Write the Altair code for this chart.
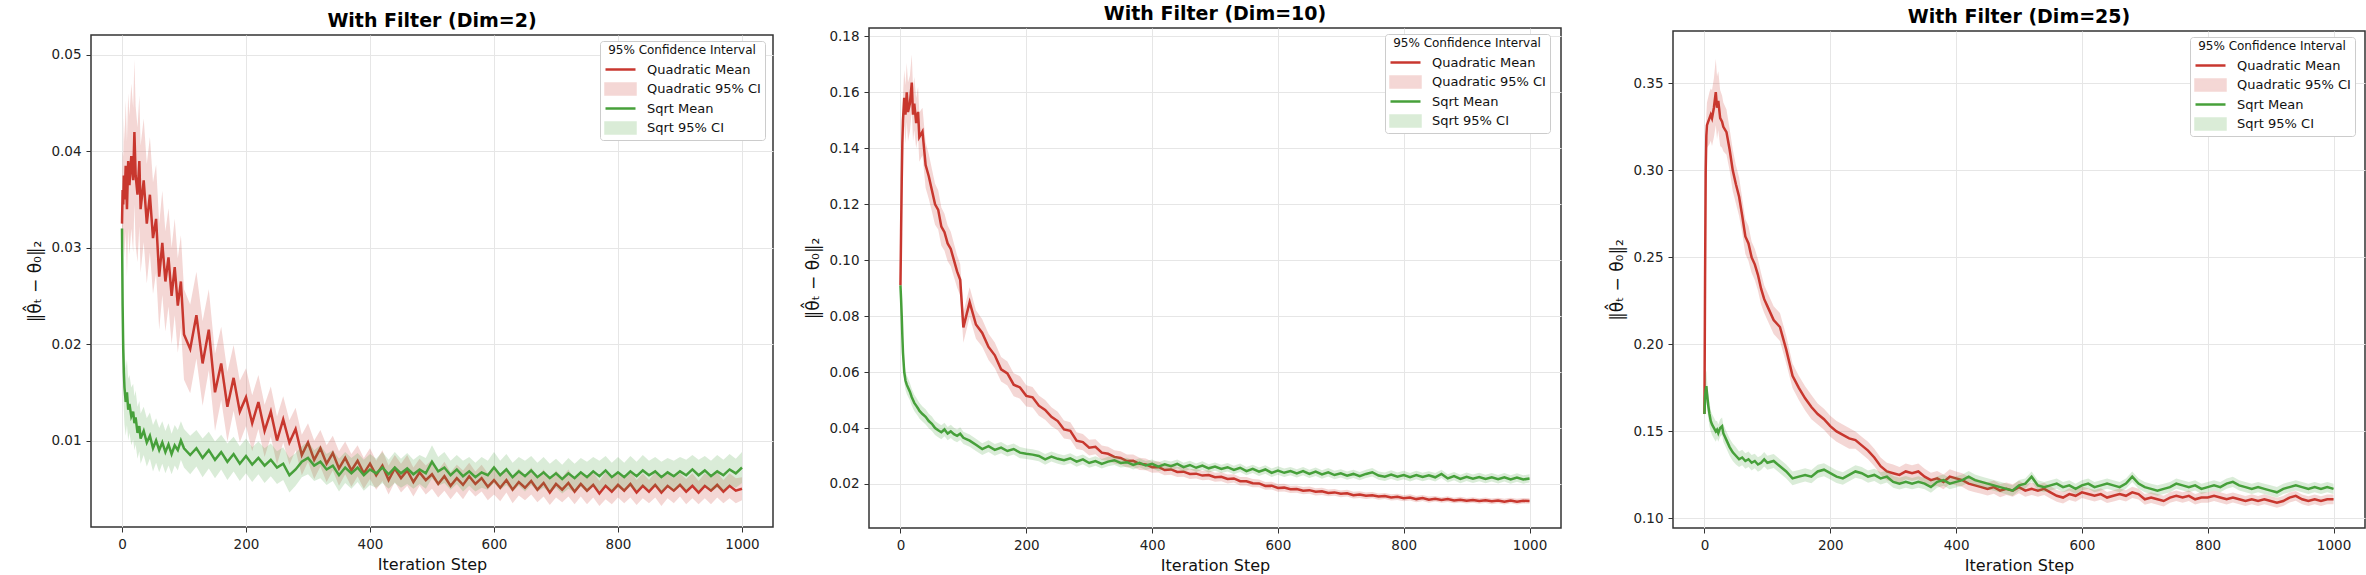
import altair as alt
import pandas as pd

# ---------------- data ----------------
ITER = [0, 1, 2, 3, 4, 6, 8, 10, 12, 15, 18, 20, 22, 25, 28, 30, 35, 40, 45, 50,
        55, 60, 65, 70, 75, 80, 85, 90, 95, 100,
        110, 120, 130, 140, 150, 160, 170, 180, 190, 200,
        210, 220, 230, 240, 250, 260, 270, 280, 290, 300,
        310, 320, 330, 340, 350, 360, 370, 380, 390, 400,
        410, 420, 430, 440, 450, 460, 470, 480, 490, 500,
        510, 520, 530, 540, 550, 560, 570, 580, 590, 600,
        610, 620, 630, 640, 650, 660, 670, 680, 690, 700,
        710, 720, 730, 740, 750, 760, 770, 780, 790, 800,
        810, 820, 830, 840, 850, 860, 870, 880, 890, 900,
        910, 920, 930, 940, 950, 960, 970, 980, 990, 1000]

SERIES = ["Quadratic Mean", "Quadratic 95% CI", "Sqrt Mean", "Sqrt 95% CI"]
TITLES = ["With Filter (Dim=2)", "With Filter (Dim=10)", "With Filter (Dim=25)"]
X_TICKS = [0, 200, 400, 600, 800, 1000]

# ---- Dim = 2 ----
Q1_MEAN = [0.0325, 0.0360, 0.0345, 0.0375, 0.0350, 0.0385, 0.0340, 0.0390, 0.0365, 0.0395,
           0.0370, 0.0420, 0.0375, 0.0355, 0.0390, 0.0340, 0.0370, 0.0325, 0.0355, 0.0310,
           0.0330, 0.0270, 0.0305, 0.0265, 0.0290, 0.0250, 0.0280, 0.0240, 0.0265, 0.0210,
           0.0195, 0.0230, 0.0180, 0.0215, 0.0150, 0.0180, 0.0135, 0.0165, 0.0130, 0.0145,
           0.0118, 0.0140, 0.0110, 0.0130, 0.0100, 0.0122, 0.0098, 0.0112, 0.0085, 0.0098,
           0.0080, 0.0092, 0.0076, 0.0087, 0.0071, 0.0082, 0.0069, 0.0079, 0.0066, 0.0076,
           0.0064, 0.0074, 0.0059, 0.0071, 0.0061, 0.0069, 0.0057, 0.0067, 0.0059, 0.0065,
           0.0055, 0.0063, 0.0053, 0.0061, 0.0054, 0.0063, 0.0055, 0.0061, 0.0052, 0.0059,
           0.0051, 0.0059, 0.0049, 0.0057, 0.0051, 0.0058, 0.0049, 0.0056, 0.0046, 0.0055,
           0.0049, 0.0056, 0.0047, 0.0055, 0.0048, 0.0054, 0.0045, 0.0053, 0.0047, 0.0054,
           0.0048, 0.0055, 0.0046, 0.0053, 0.0047, 0.0054, 0.0046, 0.0053, 0.0048, 0.0054,
           0.0047, 0.0053, 0.0046, 0.0053, 0.0048, 0.0054, 0.0047, 0.0053, 0.0048, 0.0050]
Q1_HW = [0.0030, 0.0040, 0.0050, 0.0060, 0.0060, 0.0068, 0.0070, 0.0070, 0.0072, 0.0075,
         0.0075, 0.0075, 0.0072, 0.0070, 0.0068, 0.0066, 0.0064, 0.0062, 0.0060, 0.0058,
         0.0056, 0.0055, 0.0054, 0.0052, 0.0051, 0.0050, 0.0050, 0.0049, 0.0048, 0.0047,
         0.0046, 0.0045, 0.0044, 0.0042, 0.0040, 0.0038, 0.0036, 0.0034, 0.0032, 0.0030,
         0.0029, 0.0028, 0.0027, 0.0026, 0.0025, 0.0024, 0.0023, 0.0022, 0.0021, 0.0020,
         0.0020, 0.0019, 0.0019, 0.0018, 0.0018, 0.0017, 0.0017, 0.0016, 0.0016, 0.0016,
         0.0015, 0.0016, 0.0015, 0.0014, 0.0015, 0.0016, 0.0015, 0.0014, 0.0015, 0.0015,
         0.0014, 0.0015, 0.0014, 0.0014, 0.0015, 0.0014, 0.0013, 0.0014, 0.0014, 0.0015,
         0.0014, 0.0013, 0.0014, 0.0014, 0.0013, 0.0014, 0.0013, 0.0014, 0.0013, 0.0014,
         0.0013, 0.0014, 0.0013, 0.0013, 0.0014, 0.0013, 0.0013, 0.0014, 0.0013, 0.0013,
         0.0013, 0.0014, 0.0013, 0.0013, 0.0012, 0.0013, 0.0014, 0.0013, 0.0013, 0.0012,
         0.0013, 0.0013, 0.0012, 0.0013, 0.0014, 0.0013, 0.0012, 0.0013, 0.0013, 0.0012]
S1_MEAN = [0.0320, 0.0240, 0.0195, 0.0170, 0.0155, 0.0140, 0.0150, 0.0132, 0.0138, 0.0125,
           0.0130, 0.0118, 0.0124, 0.0108, 0.0115, 0.0102, 0.0110, 0.0098, 0.0105, 0.0092,
           0.0100, 0.0090, 0.0098, 0.0088, 0.0096, 0.0086, 0.0095, 0.0090, 0.0100, 0.0092,
           0.0085, 0.0092, 0.0082, 0.0090, 0.0080, 0.0088, 0.0078, 0.0086, 0.0076, 0.0084,
           0.0075, 0.0082, 0.0074, 0.0080, 0.0072, 0.0076, 0.0064, 0.0070, 0.0078, 0.0082,
           0.0074, 0.0078, 0.0070, 0.0074, 0.0064, 0.0072, 0.0066, 0.0072, 0.0064, 0.0070,
           0.0066, 0.0072, 0.0065, 0.0072, 0.0066, 0.0071, 0.0065, 0.0070, 0.0066, 0.0078,
           0.0068, 0.0072, 0.0064, 0.0070, 0.0063, 0.0068, 0.0062, 0.0067, 0.0064, 0.0072,
           0.0064, 0.0070, 0.0062, 0.0068, 0.0063, 0.0069, 0.0062, 0.0067, 0.0061, 0.0066,
           0.0060, 0.0066, 0.0061, 0.0067, 0.0062, 0.0068, 0.0063, 0.0069, 0.0062, 0.0067,
           0.0062, 0.0068, 0.0063, 0.0069, 0.0064, 0.0068, 0.0062, 0.0067, 0.0063, 0.0068,
           0.0064, 0.0070, 0.0064, 0.0069, 0.0063, 0.0068, 0.0064, 0.0070, 0.0066, 0.0072]
S1_HW = [0.0010, 0.0030, 0.0040, 0.0040, 0.0038, 0.0035, 0.0034, 0.0032, 0.0030, 0.0030,
         0.0029, 0.0028, 0.0028, 0.0027, 0.0026, 0.0026, 0.0025, 0.0025, 0.0024, 0.0024,
         0.0023, 0.0023, 0.0022, 0.0022, 0.0022, 0.0021, 0.0021, 0.0021, 0.0020, 0.0020,
         0.0020, 0.0019, 0.0020, 0.0019, 0.0019, 0.0018, 0.0019, 0.0018, 0.0018, 0.0018,
         0.0018, 0.0017, 0.0018, 0.0017, 0.0017, 0.0017, 0.0018, 0.0017, 0.0016, 0.0017,
         0.0016, 0.0017, 0.0016, 0.0016, 0.0017, 0.0016, 0.0016, 0.0015, 0.0016, 0.0016,
         0.0015, 0.0016, 0.0015, 0.0016, 0.0015, 0.0016, 0.0015, 0.0015, 0.0016, 0.0017,
         0.0015, 0.0016, 0.0015, 0.0015, 0.0016, 0.0015, 0.0015, 0.0016, 0.0015, 0.0016,
         0.0015, 0.0016, 0.0015, 0.0015, 0.0016, 0.0015, 0.0015, 0.0016, 0.0015, 0.0015,
         0.0015, 0.0016, 0.0015, 0.0015, 0.0016, 0.0015, 0.0016, 0.0015, 0.0015, 0.0016,
         0.0015, 0.0016, 0.0015, 0.0016, 0.0015, 0.0015, 0.0016, 0.0015, 0.0016, 0.0015,
         0.0016, 0.0015, 0.0016, 0.0015, 0.0016, 0.0017, 0.0016, 0.0016, 0.0015, 0.0016]

# ---- Dim = 10 ----
Q2_MEAN = [0.0910, 0.1100, 0.1280, 0.1420, 0.1500, 0.1580, 0.1520, 0.1600, 0.1530, 0.1560,
           0.1635, 0.1520, 0.1560, 0.1490, 0.1530, 0.1440, 0.1460, 0.1340, 0.1300, 0.1250,
           0.1200, 0.1180, 0.1120, 0.1100, 0.1060, 0.1040, 0.1000, 0.0960, 0.0930, 0.0760,
           0.0850, 0.0770, 0.0740, 0.0690, 0.0660, 0.0610, 0.0595, 0.0555, 0.0545, 0.0515,
           0.0510, 0.0480, 0.0465, 0.0440, 0.0425, 0.0395, 0.0390, 0.0355, 0.0350, 0.0330,
           0.0333, 0.0312, 0.0308, 0.0297, 0.0293, 0.0282, 0.0283, 0.0272, 0.0270, 0.0260,
           0.0261, 0.0250, 0.0252, 0.0243, 0.0244, 0.0236, 0.0237, 0.0230, 0.0232, 0.0224,
           0.0226, 0.0218, 0.0220, 0.0210, 0.0210, 0.0203, 0.0202, 0.0193, 0.0194, 0.0186,
           0.0187, 0.0181, 0.0182, 0.0176, 0.0178, 0.0172, 0.0174, 0.0168, 0.0170, 0.0165,
           0.0167, 0.0160, 0.0162, 0.0158, 0.0160, 0.0155, 0.0157, 0.0152, 0.0154, 0.0149,
           0.0152, 0.0146, 0.0150, 0.0144, 0.0147, 0.0143, 0.0146, 0.0141, 0.0144, 0.0140,
           0.0143, 0.0139, 0.0142, 0.0138, 0.0141, 0.0137, 0.0141, 0.0137, 0.0140, 0.0139]
Q2_HW = [0.0020, 0.0040, 0.0060, 0.0080, 0.0090, 0.0100, 0.0105, 0.0105, 0.0105, 0.0100,
         0.0100, 0.0095, 0.0095, 0.0090, 0.0090, 0.0088, 0.0085, 0.0082, 0.0080, 0.0076,
         0.0073, 0.0070, 0.0068, 0.0066, 0.0064, 0.0062, 0.0060, 0.0058, 0.0056, 0.0055,
         0.0053, 0.0051, 0.0049, 0.0047, 0.0046, 0.0044, 0.0043, 0.0041, 0.0040, 0.0038,
         0.0037, 0.0036, 0.0035, 0.0034, 0.0033, 0.0032, 0.0031, 0.0030, 0.0029, 0.0028,
         0.0027, 0.0026, 0.0025, 0.0024, 0.0024, 0.0023, 0.0022, 0.0022, 0.0021, 0.0020,
         0.0020, 0.0019, 0.0019, 0.0018, 0.0018, 0.0018, 0.0017, 0.0017, 0.0017, 0.0016,
         0.0016, 0.0016, 0.0015, 0.0015, 0.0015, 0.0015, 0.0014, 0.0014, 0.0014, 0.0014,
         0.0014, 0.0013, 0.0013, 0.0013, 0.0013, 0.0013, 0.0013, 0.0012, 0.0012, 0.0012,
         0.0012, 0.0012, 0.0012, 0.0012, 0.0011, 0.0011, 0.0011, 0.0011, 0.0011, 0.0011,
         0.0011, 0.0011, 0.0011, 0.0011, 0.0010, 0.0010, 0.0010, 0.0010, 0.0010, 0.0010,
         0.0010, 0.0010, 0.0010, 0.0010, 0.0010, 0.0010, 0.0010, 0.0010, 0.0010, 0.0010]
S2_MEAN = [0.0910, 0.0860, 0.0800, 0.0730, 0.0670, 0.0600, 0.0570, 0.0555, 0.0545, 0.0530,
           0.0510, 0.0500, 0.0490, 0.0480, 0.0470, 0.0462, 0.0450, 0.0440, 0.0425, 0.0415,
           0.0400, 0.0392, 0.0385, 0.0395, 0.0380, 0.0388, 0.0378, 0.0372, 0.0380, 0.0365,
           0.0355, 0.0340, 0.0325, 0.0335, 0.0322, 0.0330, 0.0318, 0.0325, 0.0312, 0.0308,
           0.0305, 0.0300, 0.0288, 0.0298, 0.0290, 0.0285, 0.0292, 0.0280, 0.0288, 0.0275,
           0.0282, 0.0272, 0.0280, 0.0285, 0.0275, 0.0278, 0.0268, 0.0276, 0.0266, 0.0272,
           0.0262, 0.0270, 0.0264, 0.0272, 0.0260, 0.0268, 0.0258, 0.0266, 0.0256, 0.0262,
           0.0254, 0.0260, 0.0250, 0.0258, 0.0246, 0.0254, 0.0244, 0.0252, 0.0240, 0.0248,
           0.0240, 0.0246, 0.0238, 0.0246, 0.0236, 0.0244, 0.0234, 0.0242, 0.0232, 0.0238,
           0.0230, 0.0236, 0.0228, 0.0236, 0.0242, 0.0230, 0.0226, 0.0234, 0.0226, 0.0232,
           0.0224, 0.0232, 0.0225, 0.0231, 0.0224, 0.0236, 0.0220, 0.0228, 0.0218, 0.0226,
           0.0219, 0.0225, 0.0218, 0.0224, 0.0217, 0.0224, 0.0216, 0.0223, 0.0216, 0.0220]
S2_HW = [0.0010, 0.0020, 0.0030, 0.0035, 0.0035, 0.0035, 0.0034, 0.0033, 0.0032, 0.0031,
         0.0030, 0.0030, 0.0029, 0.0029, 0.0028, 0.0028, 0.0027, 0.0027, 0.0026, 0.0026,
         0.0025, 0.0025, 0.0025, 0.0024, 0.0024, 0.0024, 0.0023, 0.0023, 0.0023, 0.0022,
         0.0022, 0.0022, 0.0021, 0.0021, 0.0021, 0.0020, 0.0020, 0.0020, 0.0020, 0.0019,
         0.0019, 0.0019, 0.0019, 0.0018, 0.0018, 0.0018, 0.0018, 0.0018, 0.0017, 0.0017,
         0.0017, 0.0017, 0.0017, 0.0017, 0.0016, 0.0016, 0.0016, 0.0016, 0.0016, 0.0016,
         0.0016, 0.0016, 0.0016, 0.0016, 0.0016, 0.0015, 0.0015, 0.0015, 0.0015, 0.0015,
         0.0015, 0.0015, 0.0015, 0.0015, 0.0015, 0.0015, 0.0015, 0.0015, 0.0015, 0.0015,
         0.0015, 0.0015, 0.0015, 0.0015, 0.0015, 0.0015, 0.0015, 0.0015, 0.0015, 0.0015,
         0.0015, 0.0015, 0.0015, 0.0015, 0.0015, 0.0015, 0.0015, 0.0015, 0.0015, 0.0015,
         0.0015, 0.0015, 0.0015, 0.0015, 0.0015, 0.0015, 0.0015, 0.0015, 0.0015, 0.0015,
         0.0015, 0.0015, 0.0015, 0.0015, 0.0015, 0.0015, 0.0015, 0.0015, 0.0015, 0.0015]

# ---- Dim = 25 ----
Q3_MEAN = [0.160, 0.240, 0.300, 0.320, 0.326, 0.328, 0.330, 0.332, 0.330, 0.336,
           0.345, 0.336, 0.340, 0.330, 0.328, 0.325, 0.322, 0.312, 0.300, 0.292,
           0.285, 0.274, 0.262, 0.258, 0.250, 0.246, 0.240, 0.232, 0.226, 0.222,
           0.214, 0.210, 0.197, 0.182, 0.175, 0.169, 0.164, 0.160, 0.157, 0.153,
           0.150, 0.148, 0.146, 0.145, 0.142, 0.139, 0.135, 0.130, 0.127, 0.126,
           0.125, 0.127, 0.126, 0.127, 0.124, 0.122, 0.123, 0.121, 0.124, 0.123,
           0.122, 0.120, 0.119, 0.118, 0.117, 0.118, 0.116, 0.117, 0.116, 0.118,
           0.116, 0.117, 0.116, 0.117, 0.115, 0.113, 0.112, 0.114, 0.113, 0.115,
           0.114, 0.113, 0.114, 0.112, 0.113, 0.114, 0.113, 0.115, 0.114, 0.111,
           0.112, 0.111, 0.110, 0.112, 0.113, 0.112, 0.113, 0.111, 0.112, 0.112,
           0.113, 0.112, 0.111, 0.112, 0.111, 0.110, 0.111, 0.110, 0.111, 0.110,
           0.109, 0.110, 0.112, 0.113, 0.111, 0.110, 0.111, 0.110, 0.111, 0.111]
Q3_HW = [0.002, 0.006, 0.010, 0.012, 0.013, 0.014, 0.015, 0.015, 0.016, 0.017,
         0.019, 0.018, 0.017, 0.016, 0.015, 0.014, 0.013, 0.012, 0.012, 0.011,
         0.011, 0.010, 0.010, 0.010, 0.009, 0.009, 0.009, 0.009, 0.008, 0.008,
         0.008, 0.008, 0.008, 0.007, 0.007, 0.007, 0.007, 0.006, 0.006, 0.006,
         0.006, 0.006, 0.006, 0.005, 0.005, 0.005, 0.005, 0.005, 0.005, 0.005,
         0.0045, 0.0045, 0.0045, 0.0045, 0.0045, 0.0042, 0.0042, 0.0042, 0.0042, 0.0040,
         0.0040, 0.0040, 0.0040, 0.0038, 0.0038, 0.0038, 0.0038, 0.0036, 0.0036, 0.0036,
         0.0036, 0.0035, 0.0035, 0.0035, 0.0035, 0.0034, 0.0034, 0.0034, 0.0034, 0.0033,
         0.0033, 0.0033, 0.0033, 0.0032, 0.0032, 0.0032, 0.0032, 0.0032, 0.0031, 0.0031,
         0.0031, 0.0031, 0.0031, 0.0030, 0.0030, 0.0030, 0.0030, 0.0030, 0.0030, 0.0030,
         0.0030, 0.0030, 0.0030, 0.0029, 0.0029, 0.0029, 0.0029, 0.0029, 0.0029, 0.0029,
         0.0029, 0.0029, 0.0029, 0.0028, 0.0028, 0.0028, 0.0028, 0.0028, 0.0028, 0.0028]
S3_MEAN = [0.160, 0.170, 0.174, 0.176, 0.172, 0.165, 0.160, 0.156, 0.154, 0.152,
           0.150, 0.151, 0.149, 0.152, 0.153, 0.149, 0.145, 0.141, 0.138, 0.136,
           0.134, 0.135, 0.133, 0.134, 0.132, 0.133, 0.131, 0.132, 0.134, 0.132,
           0.133, 0.130, 0.127, 0.123, 0.124, 0.125, 0.124, 0.127, 0.128, 0.126,
           0.124, 0.123, 0.125, 0.127, 0.126, 0.124, 0.125, 0.123, 0.124, 0.121,
           0.120, 0.121, 0.120, 0.121, 0.120, 0.118, 0.121, 0.122, 0.120, 0.121,
           0.122, 0.124, 0.122, 0.121, 0.120, 0.119, 0.118, 0.117, 0.116, 0.119,
           0.120, 0.124, 0.119, 0.118, 0.119, 0.120, 0.118, 0.119, 0.117, 0.119,
           0.120, 0.118, 0.119, 0.120, 0.119, 0.118, 0.120, 0.124, 0.120, 0.118,
           0.117, 0.116, 0.117, 0.118, 0.120, 0.119, 0.118, 0.119, 0.117, 0.118,
           0.119, 0.118, 0.120, 0.121, 0.119, 0.118, 0.117, 0.118, 0.117, 0.116,
           0.115, 0.117, 0.118, 0.119, 0.118, 0.117, 0.118, 0.117, 0.118, 0.117]
S3_HW = [0.003, 0.008, 0.009, 0.009, 0.008, 0.007, 0.007, 0.006, 0.006, 0.006,
         0.006, 0.005, 0.005, 0.005, 0.005, 0.005, 0.005, 0.005, 0.005, 0.005,
         0.0045, 0.0045, 0.0045, 0.0045, 0.0045, 0.0042, 0.0042, 0.0042, 0.0042, 0.0040,
         0.0040, 0.0040, 0.0040, 0.0040, 0.0038, 0.0038, 0.0038, 0.0038, 0.0037, 0.0037,
         0.0037, 0.0036, 0.0036, 0.0036, 0.0035, 0.0035, 0.0035, 0.0035, 0.0034, 0.0034,
         0.0034, 0.0034, 0.0033, 0.0033, 0.0033, 0.0033, 0.0033, 0.0032, 0.0032, 0.0032,
         0.0032, 0.0032, 0.0032, 0.0031, 0.0031, 0.0031, 0.0031, 0.0031, 0.0031, 0.0031,
         0.0030, 0.0030, 0.0030, 0.0030, 0.0030, 0.0030, 0.0030, 0.0030, 0.0030, 0.0030,
         0.0030, 0.0030, 0.0030, 0.0030, 0.0030, 0.0030, 0.0030, 0.0030, 0.0030, 0.0030,
         0.0030, 0.0030, 0.0030, 0.0030, 0.0030, 0.0030, 0.0030, 0.0030, 0.0030, 0.0030,
         0.0030, 0.0030, 0.0030, 0.0030, 0.0030, 0.0030, 0.0030, 0.0030, 0.0030, 0.0030,
         0.0030, 0.0030, 0.0030, 0.0030, 0.0030, 0.0030, 0.0030, 0.0030, 0.0030, 0.0030]

Y_TICKS = [
    [0.01, 0.02, 0.03, 0.04, 0.05],
    [0.02, 0.04, 0.06, 0.08, 0.10, 0.12, 0.14, 0.16, 0.18],
    [0.10, 0.15, 0.20, 0.25, 0.30, 0.35],
]

# ---------------- style ----------------
RED = "#c8372f"
GREEN = "#47a03a"
FONT = "DejaVu Sans"
Y_TITLE = "\u2016\u03b8\u0302\u209c \u2212 \u03b8\u2080\u2016\u2082"

LAYOUT = [
    # plot width / height, y-domain, legend position, y-axis extent, top spacer
    dict(w=682, h=492, dom=[0.00103, 0.05207], lx=509, ly=6, ext=70, top=8),
    dict(w=692, h=500, dom=[0.00427, 0.1830], lx=516, ly=6, ext=70, top=1),
    dict(w=692, h=497, dom=[0.0945, 0.3801], lx=517, ly=6, ext=86, top=4),
]

is_ci = "indexof(datum.value, 'CI') >= 0"


def make_panel(idx, q_mean, q_hw, s_mean, s_hw):
    cfg = LAYOUT[idx]
    n = len(ITER)
    assert all(len(a) == n for a in (q_mean, q_hw, s_mean, s_hw))
    df = pd.DataFrame({"iter": ITER, "q_mean": q_mean, "q_hw": q_hw,
                       "s_mean": s_mean, "s_hw": s_hw})

    x = alt.X("iter:Q",
              scale=alt.Scale(domain=[-50, 1050], nice=False, zero=False),
              axis=alt.Axis(values=X_TICKS, title="Iteration Step", format="d",
                            titlePadding=6))
    yscale = alt.Scale(domain=cfg["dom"], nice=False, zero=False)
    yaxis = alt.Axis(values=Y_TICKS[idx], format=".2f", title=Y_TITLE,
                     titleX=-56, titleBaseline="middle", titleFontSize=17,
                     minExtent=cfg["ext"], maxExtent=cfg["ext"])
    stroke_scale = alt.Scale(domain=SERIES, range=[RED, RED, GREEN, GREEN])
    legend = alt.Legend(
        title="95% Confidence Interval", orient="none",
        legendX=cfg["lx"], legendY=cfg["ly"],
        titleFontSize=12, titleFontWeight="normal", titleAnchor="middle",
        titleColor="#111111", titlePadding=5,
        labelFontSize=13, labelColor="#111111", labelOffset=10,
        symbolSize=900, clipHeight=15, rowPadding=4.5, padding=4,
        fillColor="white", strokeColor="#cccccc", cornerRadius=3,
        symbolStrokeWidth=2.5,
        symbolType={"expr": f"{is_ci} ? 'M-1,-0.36H1V0.36H-1Z' : 'stroke'"},
        symbolFillColor={"expr": f"datum.value == 'Quadratic 95% CI' ? '{RED}' : "
                                 f"datum.value == 'Sqrt 95% CI' ? '{GREEN}' : 'transparent'"},
        symbolOpacity={"expr": f"{is_ci} ? 0.2 : 1"},
    )

    base = alt.Chart(df)
    q_line = base.transform_calculate(series="'Quadratic Mean'").mark_line(
        strokeWidth=2.5).encode(
        x=x, y=alt.Y("q_mean:Q", scale=yscale, axis=yaxis),
        stroke=alt.Stroke("series:N", scale=stroke_scale, legend=legend))
    q_band = base.transform_calculate(
        lo="datum.q_mean - datum.q_hw", hi="datum.q_mean + datum.q_hw").mark_area(
        color=RED, opacity=0.2).encode(
        x=x, y=alt.Y("lo:Q", scale=yscale, axis=yaxis), y2="hi:Q")
    s_line = base.transform_calculate(series="'Sqrt Mean'").mark_line(
        strokeWidth=2.5).encode(
        x=x, y=alt.Y("s_mean:Q", scale=yscale, axis=yaxis),
        stroke=alt.Stroke("series:N", scale=stroke_scale, legend=legend))
    s_band = base.transform_calculate(
        lo="datum.s_mean - datum.s_hw", hi="datum.s_mean + datum.s_hw").mark_area(
        color=GREEN, opacity=0.2).encode(
        x=x, y=alt.Y("lo:Q", scale=yscale, axis=yaxis), y2="hi:Q")

    panel = alt.layer(q_line, q_band, s_line, s_band).properties(
        width=cfg["w"], height=cfg["h"],
        title=alt.TitleParams(text=TITLES[idx], fontSize=19, fontWeight="bold",
                              font=FONT, color="#000000", anchor="middle", offset=4))

    # empty strip above the panel: sets how far down this panel starts
    spacer = alt.Chart(pd.DataFrame({"s": [""]})).mark_text(fontSize=1).encode(
        text="s:N").properties(
        width=10, height=cfg["top"],
        view=alt.ViewBackground(stroke="transparent", fill="transparent"))

    return alt.vconcat(spacer, panel, spacing=0).resolve_scale(
        stroke="independent").resolve_legend(stroke="independent")


p1 = make_panel(0, Q1_MEAN, Q1_HW, S1_MEAN, S1_HW)
p2 = make_panel(1, Q2_MEAN, Q2_HW, S2_MEAN, S2_HW)
p3 = make_panel(2, Q3_MEAN, Q3_HW, S3_MEAN, S3_HW)

chart = alt.hconcat(p1, p2, p3, spacing=24).resolve_scale(
    stroke="independent", y="independent").resolve_legend(
    stroke="independent").properties(
    padding={"left": 20, "top": 1, "right": 0, "bottom": 0},
    background="white",
).configure(font=FONT).configure_view(
    stroke="#333333", strokeWidth=1.5
).configure_axis(
    labelFontSize=13.5, titleFontSize=16, titleFontWeight="normal",
    labelColor="#222222", titleColor="#111111", domain=False,
    tickColor="#333333", tickSize=5, tickWidth=1, labelPadding=5,
    gridColor="#e6e6e6", gridWidth=1, labelFont=FONT, titleFont=FONT,
)

chart.save("out.html", embed_options={"renderer": "svg", "actions": False})
